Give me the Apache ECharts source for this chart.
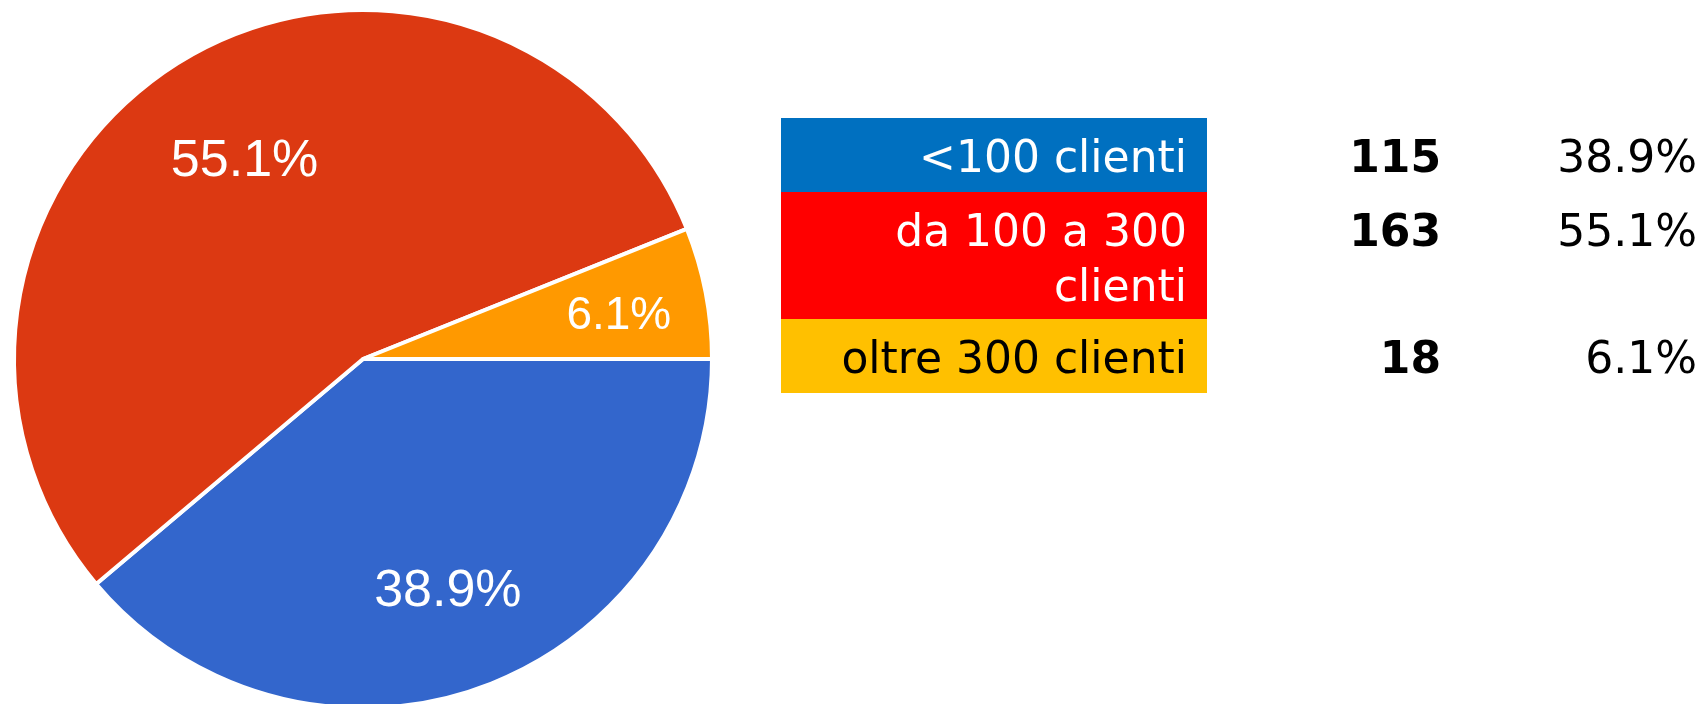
<!DOCTYPE html>
<html>
<head>
<meta charset="utf-8">
<script src="https://cdn.jsdelivr.net/npm/echarts@6/dist/echarts.min.js"></script>
<style>
  html, body { margin: 0; padding: 0; background: #ffffff; }
  #chart { width: 1704px; height: 704px; }
</style>
</head>
<body>
<div id="chart"></div>
<script>
// ---- data ----
const categories = ['<100 clienti', 'da 100 a 300 clienti', 'oltre 300 clienti'];
const counts = [115, 163, 18];
const pieColors = ['#3366CC', '#DC3912', '#FF9900'];
const tableColors = ['#0070C0', '#FF0000', '#FFC000'];
const tableTextColors = ['#FFFFFF', '#FFFFFF', '#000000'];

// ---- derived ----
const total = counts.reduce((a, b) => a + b, 0);
const pct = v => (v / total * 100).toFixed(1) + '%';
const pieData = categories.map((name, i) => ({ value: counts[i], name: name, itemStyle: { color: pieColors[i] } }));

// ---- layout / style constants ----
const cx = 363, cy = 359, R = 349;
const labelNudge = [[0, 0], [9, 15], [13, 4]];
const labelSizes = [52, 52, 46];
const tableFont = '"DejaVu Sans", Verdana, sans-serif';
const fs = 44;
const cellLeft = 781, cellRight = 1207, tableTop = 118;
const rowBase = 74, rowExtra = 53, lineStep = 55, firstBaseline = 55;
const textRight = 1187, countRight = 1441, pctRight = 1697;
const midOffset = 12;

// word wrap with canvas measurement
const mctx = document.createElement('canvas').getContext('2d');
mctx.font = fs + 'px ' + tableFont;
function wrap(text, maxW) {
  const words = text.split(' ');
  const lines = [];
  let cur = '';
  words.forEach(w => {
    const t = cur ? cur + ' ' + w : w;
    if (mctx.measureText(t).width > maxW && cur) { lines.push(cur); cur = w; }
    else cur = t;
  });
  if (cur) lines.push(cur);
  return lines;
}

const graphics = [];
let y = tableTop;
categories.forEach((name, i) => {
  const lines = wrap(name, textRight - cellLeft - 8);
  const h = rowBase + (lines.length - 1) * rowExtra;
  graphics.push({
    type: 'rect', silent: true,
    shape: { x: cellLeft, y: y, width: cellRight - cellLeft, height: h },
    style: { fill: tableColors[i] }
  });
  lines.forEach((ln, k) => {
    graphics.push({
      type: 'text', silent: true, z: 10,
      x: textRight, y: y + firstBaseline + k * lineStep - midOffset,
      style: { text: ln, font: fs + 'px ' + tableFont, fill: tableTextColors[i], align: 'right', verticalAlign: 'middle' }
    });
  });
  const by = y + firstBaseline - midOffset;
  graphics.push({
    type: 'text', silent: true, z: 10,
    x: countRight, y: by,
    style: { text: String(counts[i]), font: 'bold ' + fs + 'px ' + tableFont, fill: '#000000', align: 'right', verticalAlign: 'middle' }
  });
  graphics.push({
    type: 'text', silent: true, z: 10,
    x: pctRight, y: by,
    style: { text: pct(counts[i]), font: fs + 'px ' + tableFont, fill: '#000000', align: 'right', verticalAlign: 'middle' }
  });
  y += h;
});

const chart = echarts.init(document.getElementById('chart'), null, { renderer: 'canvas' });
chart.setOption({
  animation: false,
  backgroundColor: '#ffffff',
  series: [
    {
      type: 'pie',
      center: [cx, cy],
      radius: [0, R],
      startAngle: 0,
      clockwise: true,
      silent: true,
      label: { show: false },
      labelLine: { show: false },
      itemStyle: { borderColor: '#ffffff', borderWidth: 4 },
      data: pieData
    },
    {
      type: 'pie',
      center: [cx, cy],
      radius: [R * 0.4, R],
      startAngle: 0,
      clockwise: true,
      silent: true,
      z: 5,
      itemStyle: { color: 'rgba(0,0,0,0)', borderWidth: 0 },
      label: {
        show: true,
        position: 'inside',
        color: '#ffffff',
        fontFamily: '"Liberation Sans", Arial, sans-serif',
        fontSize: 52,
        formatter: p => pct(p.value)
      },
      labelLine: { show: false },
      data: categories.map((name, i) => ({
        value: counts[i], name: name,
        label: { offset: labelNudge[i], fontSize: labelSizes[i] }
      }))
    }
  ],
  graphic: graphics
});
</script>
</body>
</html>
